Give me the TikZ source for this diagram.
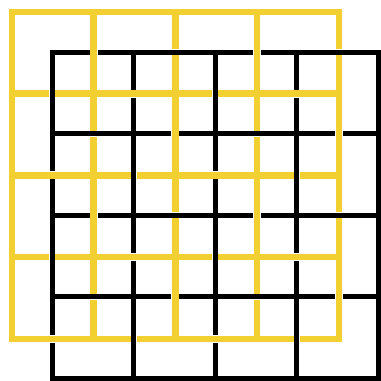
\documentclass[tikz,border=0pt]{standalone}
\definecolor{ylw}{RGB}{243,208,50}
\begin{document}
\begin{tikzpicture}[x=1pt,y=-1pt,
  yl/.style={draw=ylw,line width=6.5pt},
  bk/.style={draw=black,line width=5pt},
  casey/.style={draw=white,line width=8pt},
  caseb/.style={draw=white,line width=6pt}]
\useasboundingbox (0,0) rectangle (381,381);
% black grid (full lines)
\draw[bk] (52,52) rectangle (378.4,378.4);
\foreach \k in {1,2,3}{
  \draw[bk] (52+81.6*\k,52) -- (52+81.6*\k,378.4);
  \draw[bk] (52,52+81.6*\k) -- (378.4,52+81.6*\k);
}
% yellow grid (full lines)
\draw[yl] (12,12) rectangle (338.8,338.8);
\foreach \k in {1,2,3}{
  \draw[yl] (12+81.7*\k,12) -- (12+81.7*\k,338.8);
  \draw[yl] (12,12+81.7*\k) -- (338.8,12+81.7*\k);
}
% weaving: black horizontals x yellow verticals
\foreach \r in {0,...,3}{
  \foreach \c in {1,...,4}{
    \pgfmathtruncatemacro{\p}{mod(\r+\c,2)}
    \pgfmathsetmacro{\xx}{12+81.7*\c}
    \pgfmathsetmacro{\yy}{52+81.6*\r}
    \ifnum\p=0
      \draw[caseb] (\xx-8,\yy) -- (\xx+8,\yy);
      \draw[bk] (\xx-8,\yy) -- (\xx+8,\yy);
    \else
      \draw[casey] (\xx,\yy-7) -- (\xx,\yy+7);
      \draw[yl] (\xx,\yy-7) -- (\xx,\yy+7);
    \fi
  }
}
% weaving: black verticals x yellow horizontals
\foreach \i in {0,...,3}{
  \foreach \j in {1,...,4}{
    \pgfmathtruncatemacro{\p}{mod(\i+\j,2)}
    \pgfmathsetmacro{\xx}{52+81.6*\i}
    \pgfmathsetmacro{\yy}{12+81.7*\j}
    \ifnum\p=1
      \draw[caseb] (\xx,\yy-8) -- (\xx,\yy+8);
      \draw[bk] (\xx,\yy-8) -- (\xx,\yy+8);
    \else
      \draw[casey] (\xx-7,\yy) -- (\xx+7,\yy);
      \draw[yl] (\xx-7,\yy) -- (\xx+7,\yy);
    \fi
  }
}
\end{tikzpicture}
\end{document}
